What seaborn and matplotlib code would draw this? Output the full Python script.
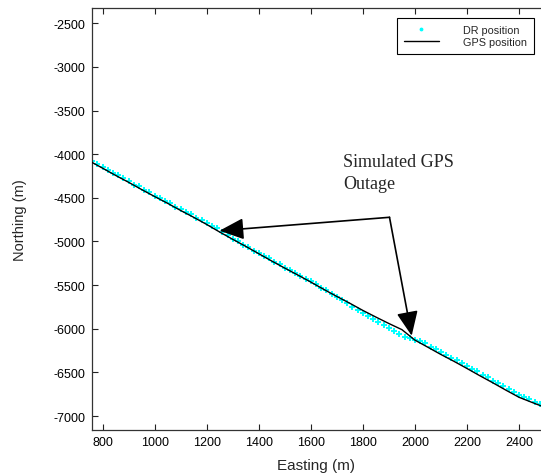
import matplotlib
matplotlib.use("Agg")
import matplotlib.pyplot as plt
from matplotlib.lines import Line2D
import seaborn as sns
import pandas as pd

# ---- data ----
gps_east = [757, 800, 850, 900, 950, 1000, 1050, 1100, 1150, 1200, 1250, 1300,
            1350, 1400, 1450, 1500, 1550, 1600, 1650, 1700, 1750, 1800, 1850,
            1900, 1950, 1975, 2000, 2050, 2100, 2150, 2200, 2250, 2300, 2350,
            2400, 2450, 2492]
gps_north = [-4090, -4160, -4243, -4322, -4405, -4485, -4563, -4645, -4723,
             -4805, -4892, -4975, -5056, -5140, -5224, -5305, -5384, -5465,
             -5549, -5630, -5708, -5790, -5866, -5940, -6010, -6070, -6130,
             -6212, -6295, -6373, -6455, -6539, -6620, -6704, -6785, -6844,
             -6892]

dr_east = [760, 780, 800, 820, 840, 860, 880, 900, 920, 940, 960, 980, 1000,
           1020, 1040, 1060, 1080, 1100, 1120, 1140, 1160, 1180, 1200, 1220,
           1240, 1260, 1280, 1300, 1320, 1340, 1360, 1380, 1400, 1420, 1440,
           1460, 1480, 1500, 1520, 1540, 1560, 1580, 1600, 1620, 1640, 1660,
           1680, 1700, 1720, 1740, 1760, 1780, 1800, 1820, 1840, 1860, 1880,
           1900, 1920, 1940, 1960, 1980, 2000, 2020, 2040, 2060, 2080, 2100,
           2120, 2140, 2160, 2180, 2200, 2220, 2240, 2260, 2280, 2300, 2320,
           2340, 2360, 2380, 2400, 2420, 2440, 2460, 2480]
dr_north = [-4083, -4110, -4150, -4176, -4216, -4237, -4278, -4305, -4347,
            -4368, -4409, -4437, -4476, -4499, -4537, -4561, -4603, -4629,
            -4664, -4688, -4729, -4755, -4783, -4822, -4849, -4892, -4929,
            -4967, -4997, -5037, -5065, -5105, -5130, -5168, -5194, -5236,
            -5263, -5299, -5324, -5365, -5391, -5431, -5457, -5487, -5528,
            -5557, -5599, -5635, -5672, -5710, -5745, -5785, -5820, -5858,
            -5891, -5927, -5960, -5996, -6030, -6065, -6090, -6106, -6124,
            -6141, -6168, -6209, -6235, -6271, -6297, -6337, -6362, -6398,
            -6424, -6464, -6489, -6528, -6554, -6593, -6622, -6661, -6689,
            -6728, -6758, -6787, -6807, -6838, -6859]

x_ticks = [800, 1000, 1200, 1400, 1600, 1800, 2000, 2200, 2400]
y_ticks = [-7000, -6500, -6000, -5500, -5000, -4500, -4000, -3500, -3000, -2500]
legend_labels = ["DR position", "GPS position"]
annot_lines = ["Simulated GPS", "Outage"]

gps = pd.DataFrame({"Easting": gps_east, "Northing": gps_north})
dr = pd.DataFrame({"Easting": dr_east, "Northing": dr_north})

# ---- style ----
sns.set_style("ticks")
plt.rcParams["font.family"] = ["Liberation Sans", "DejaVu Sans"]

W, H = 541, 477
fig = plt.figure(figsize=(W / 100, H / 100), dpi=100)
ax_l, ax_r, ax_t, ax_b = 91.7, 544.0, 9.3, 431.0
ax = fig.add_axes([ax_l / W, 1 - ax_b / H, (ax_r - ax_l) / W, (ax_b - ax_t) / H])

sns.scatterplot(data=dr, x="Easting", y="Northing", ax=ax, marker="+",
                s=22, color="#00ffff", linewidth=1.4, zorder=2, legend=False)
sns.lineplot(data=gps, x="Easting", y="Northing", ax=ax, sort=False,
             estimator=None, color="black", linewidth=1.0, zorder=3,
             legend=False)

ax.set_xlim(758, 2496)
ax.set_ylim(-7160, -2328)
ax.set_xticks(x_ticks)
ax.set_yticks(y_ticks)
ax.set_xticklabels([str(v) for v in x_ticks])
ax.set_yticklabels([str(v) for v in y_ticks])
ax.tick_params(direction="in", length=4, width=0.8, top=True, right=False,
               labelsize=9, colors="#222222", pad=4.5)
ax.tick_params(axis="x", labelcolor="black")
ax.tick_params(axis="y", labelcolor="black")
for sp in ax.spines.values():
    sp.set_visible(True)
    sp.set_linewidth(0.9)
    sp.set_color("#333333")

ax.set_xlabel("Easting (m)", fontsize=11)
ax.set_ylabel("Northing (m)", fontsize=10.5)
ax.xaxis.set_label_coords((316 - ax_l) / (ax_r - ax_l), (ax_b - 459) / (ax_b - ax_t))
ax.yaxis.set_label_coords((27 - ax_l) / (ax_r - ax_l), 0.5)

# legend
handles = [Line2D([], [], marker=".", ms=3.5, color="#00ffff", ls=""),
           Line2D([], [], color="black", lw=1.0)]
leg = ax.legend(handles, legend_labels, loc="upper right",
                bbox_to_anchor=(534 / W, 1 - 19 / H),
                bbox_transform=fig.transFigure, borderaxespad=0,
                fontsize=7.8, handlelength=3.2, handletextpad=2.3,
                borderpad=0.6, labelspacing=0.25, fancybox=False,
                framealpha=1, edgecolor="black")
leg.get_frame().set_linewidth(0.8)

# annotation
def px2data(px, py):
    x0, x1 = ax.get_xlim()
    y0, y1 = ax.get_ylim()
    return (x0 + (px - ax_l) / (ax_r - ax_l) * (x1 - x0),
            y1 - (py - ax_t) / (ax_b - ax_t) * (y1 - y0))

vertex = px2data(389.5, 218.3)
tip1 = px2data(219.5, 231.7)
tip2 = px2data(411.7, 336.7)
astyle = dict(arrowstyle="-|>,head_length=0.75,head_width=0.33",
              mutation_scale=20, color="black", lw=1.2,
              shrinkA=0, shrinkB=0)
ax.annotate("", xy=tip1, xytext=vertex, arrowprops=astyle, zorder=5)
ax.annotate("", xy=tip2, xytext=vertex, arrowprops=astyle, zorder=5)

serif = ["Liberation Serif", "DejaVu Serif"]
ax.text(*px2data(343, 167), annot_lines[0], family=serif, fontsize=13,
        va="baseline", ha="left")
ax.text(*px2data(343, 189), annot_lines[1], family=serif, fontsize=13,
        va="baseline", ha="left")

fig.savefig("out.png", dpi=100)
